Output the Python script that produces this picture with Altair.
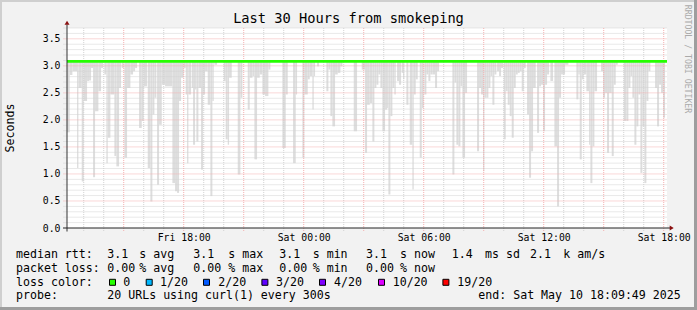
import altair as alt
import pandas as pd

# ---------------- data ----------------
# smoke bars: minutes after Fri 12:10, and lowest ping (s) of each bar
smoke_start_min = [0, 8, 16, 30, 34, 44, 50, 60, 66, 72, 78, 84, 94, 102, 112, 118, 122, 130, 142, 148, 156, 164, 172, 180, 190, 198, 204, 216, 224, 230, 242, 250, 256, 262, 270, 276, 284,
                   294, 316, 324, 330, 336, 342, 350, 356, 360, 364, 374, 378, 384, 388, 394, 402, 408, 414, 422, 430, 436, 442, 470, 476, 482, 486, 512, 520, 542, 548, 556, 562, 570, 578, 586,
                   594, 604, 646, 656, 678, 686, 706, 712, 722, 728, 736, 740, 750, 778, 784, 790, 796, 804, 812, 820, 860, 884,
                   894, 900, 908, 916, 922, 928, 934, 940, 946, 954, 960, 964, 970, 976, 982, 990, 996, 1004, 1008, 1018, 1028, 1036, 1040, 1046, 1058, 1064, 1072, 1078, 1084, 1090, 1096, 1104, 1110, 1156, 1162, 1168, 1174, 1180, 1186,
                   1194, 1230, 1236, 1242, 1248, 1252, 1258, 1264, 1270, 1276, 1282, 1290, 1296, 1302, 1310, 1316, 1322, 1328, 1334, 1340, 1346, 1352, 1358, 1364, 1370, 1380, 1386, 1392, 1398, 1410, 1416, 1422, 1428, 1434, 1440, 1450, 1462, 1470, 1476, 1482,
                   1494, 1528, 1534, 1538, 1544, 1550, 1558, 1566, 1570, 1576, 1582, 1602, 1608, 1614, 1620, 1626, 1634, 1640, 1646, 1670, 1678, 1684, 1690, 1696, 1702, 1708, 1714, 1720, 1726, 1732, 1738, 1744, 1764, 1770, 1776, 1782, 1788]
smoke_end_min = [8, 16, 30, 34, 44, 50, 60, 66, 72, 78, 84, 94, 102, 108, 118, 122, 130, 142, 148, 156, 162, 170, 180, 190, 198, 204, 210, 224, 230, 240, 250, 256, 262, 268, 276, 284, 294,
                 316, 324, 330, 336, 342, 350, 356, 360, 364, 372, 378, 384, 388, 394, 402, 408, 414, 422, 430, 436, 440, 450, 476, 482, 486, 494, 520, 526, 548, 556, 562, 570, 578, 586, 594,
                 604, 610, 656, 662, 686, 690, 712, 722, 728, 736, 740, 744, 756, 784, 790, 796, 804, 812, 820, 826, 870, 894,
                 900, 908, 916, 922, 928, 934, 940, 946, 954, 960, 964, 970, 976, 982, 986, 996, 1002, 1008, 1012, 1024, 1036, 1040, 1046, 1052, 1064, 1070, 1078, 1084, 1090, 1096, 1104, 1110, 1116, 1162, 1168, 1174, 1180, 1186, 1194,
                 1200, 1236, 1242, 1248, 1252, 1258, 1264, 1270, 1276, 1282, 1288, 1296, 1302, 1308, 1316, 1322, 1328, 1334, 1340, 1346, 1352, 1358, 1364, 1370, 1376, 1386, 1392, 1398, 1406, 1416, 1422, 1428, 1434, 1440, 1446, 1458, 1470, 1476, 1482, 1494,
                 1504, 1534, 1538, 1544, 1550, 1558, 1566, 1570, 1576, 1582, 1590, 1608, 1614, 1620, 1626, 1634, 1640, 1646, 1652, 1678, 1684, 1690, 1696, 1702, 1708, 1714, 1720, 1726, 1732, 1738, 1744, 1750, 1770, 1776, 1782, 1788, 1794]
smoke_low = [1.77, 2.83, 2.90, 1.11, 2.59, 0.86, 2.35, 2.72, 2.73, 2.96, 0.94, 2.16, 2.53, 2.96, 2.84, 1.20, 1.67, 2.47, 1.33, 1.14, 2.59, 2.96, 1.30, 2.59, 2.84, 2.90, 2.96, 1.85, 1.98, 2.62, 1.11, 0.49, 2.10, 2.41, 0.80, 1.91, 2.65,
             2.62, 0.83, 0.68, 0.65, 2.35, 2.78, 2.96, 2.47, 1.20, 2.47, 2.59, 1.54, 2.56, 1.60, 2.59, 1.08, 2.47, 2.90, 2.28, 0.59, 2.35, 3.02, 2.72, 1.64, 1.54, 2.78, 0.99, 2.41, 2.19, 2.78, 2.81, 1.27, 2.78, 2.84, 2.47,
             2.44, 2.93, 1.48, 2.47, 1.20, 2.47, 1.30, 2.47, 2.75, 2.81, 2.19, 2.81, 2.99, 2.53, 2.93, 2.07, 1.88, 2.84, 2.87, 2.99, 1.79, 2.93,
             1.39, 2.28, 2.31, 1.60, 2.59, 2.65, 2.84, 2.59, 1.79, 2.19, 2.22, 0.62, 2.07, 2.59, 2.47, 2.72, 2.65, 2.87, 2.75, 2.28, 1.54, 0.71, 2.47, 2.75, 1.30, 2.22, 2.47, 2.84, 2.72, 2.84, 2.84, 2.59, 2.90, 0.99, 2.69, 1.54, 1.51, 2.62, 1.30,
             2.50, 1.42, 2.59, 2.47, 1.05, 2.41, 2.41, 2.59, 2.81, 2.28, 2.84, 2.90, 2.81, 2.96, 1.64, 2.53, 2.28, 2.07, 1.67, 2.59, 2.84, 2.87, 2.90, 2.53, 2.96, 2.10, 0.93, 1.42, 2.59, 1.76, 2.62, 2.65, 1.79, 2.65, 2.84, 2.72, 1.51, 0.40, 2.41, 2.84,
             3.02, 2.38, 2.84, 1.27, 2.75, 2.84, 2.53, 1.54, 0.83, 1.51, 2.53, 2.90, 2.41, 2.50, 1.39, 2.50, 1.33, 2.65, 3.02, 1.98, 1.98, 2.59, 2.81, 2.41, 1.54, 1.88, 2.47, 1.02, 1.88, 0.83, 2.35, 2.90, 2.59, 1.88, 2.65, 2.50, 2.04]
SMOKE_TOP = 3.07

median_time = ["2025-05-09T12:09:49Z", "2025-05-10T18:09:49Z"]
median_rtt = [3.082, 3.082]

loss_labels = ["0", "1/20", "2/20", "3/20", "4/20", "10/20", "19/20"]
loss_colors = ["#26ff00", "#00b8ff", "#0059ff", "#5e00ff", "#7e00ff", "#dd00ff", "#ff0000"]

y_tick_values = [0.0, 0.5, 1.0, 1.5, 2.0, 2.5, 3.0, 3.5]
x_tick_hours = [(9, 18), (10, 0), (10, 6), (10, 12), (10, 18)]

title_text = "Last 30 Hours from smokeping"
y_title = "Seconds"
watermark = "RRDTOOL / TOBI OETIKER"
legend_rtt = ["median rtt:", "3.1", "s avg", "3.1", "s max", "3.1", "s min", "3.1", "s now", "1.4", "ms sd", "2.1", "k am/s"]
legend_loss = ["packet loss:", "0.00", "% avg", "0.00", "% max", "0.00", "% min", "0.00", "% now"]
legend_probe = ["probe:", "20 URLs using curl(1) every 300s", "end: Sat May 10 18:09:49 2025"]
loss_color_label = "loss color:"

# ---------------- layout ----------------
FONT = "DejaVu Sans Mono"
W, H = 600, 200
PAD = {"left": 67, "top": 28, "right": 30, "bottom": 82}
rtt_x = [-51, 40.3, 72.3, 126.3, 161.3, 212.3, 245.7, 299, 333, 384.7, 418, 463, 496.3]
loss_x = [-51, 40.3, 72.3, 126.3, 161.3, 212.3, 245.7, 299, 333]
probe_x = [-51, 40.3, 411.3]
sq_x = [42.0, 78.7, 136.0, 194.4, 252.0, 311.0, 375.4]
lab_x = [56.3, 93, 151.3, 209, 267, 325.7, 390.3]
LINE_Y = [226.6, 240.6, 254.6, 268.4]

t0 = pd.Timestamp("2025-05-09 12:10:00")
fmt = "%Y-%m-%dT%H:%M:%SZ"
smoke = pd.DataFrame({
    "start": (t0 + pd.to_timedelta(smoke_start_min, unit="min")).strftime(fmt),
    "end": (t0 + pd.to_timedelta(smoke_end_min, unit="min")).strftime(fmt),
    "low": smoke_low,
})
smoke["high"] = SMOKE_TOP
median = pd.DataFrame({"t": median_time, "v": median_rtt})

grid_hours = [pd.Timestamp("2025-05-09 13:00") + pd.Timedelta(hours=h) for h in range(30)]
vgrid = pd.DataFrame({"t": [g.strftime(fmt) for g in grid_hours],
                      "major": [g.hour % 3 == 0 for g in grid_hours]})
hvals = [round(k * 0.1, 1) for k in range(1, 38)]
hgrid = pd.DataFrame({"v": hvals, "major": [k % 5 == 0 for k in range(1, 38)]})

x_scale = alt.Scale(type="utc", domain=[
    alt.DateTime(year=2025, month=5, date=9, hours=12, minutes=9, seconds=49, utc=True),
    alt.DateTime(year=2025, month=5, date=10, hours=18, minutes=9, seconds=49, utc=True)])
y_scale = alt.Scale(domain=[0, 3.7], nice=False, zero=True)

x_axis = alt.Axis(values=[alt.DateTime(year=2025, month=5, date=d, hours=h, utc=True) for d, h in x_tick_hours],
                  format="%a %H:%M", labelFont=FONT, labelFontSize=9.8, labelColor="#000000",
                  ticks=False, tickSize=0, domain=False, grid=False, title=None, labelPadding=9,
                  labelBaseline="middle", labelFlush=False, labelOverlap=False)
y_axis = alt.Axis(values=y_tick_values, format=".1f", labelFont=FONT, labelFontSize=9.8, labelColor="#000000",
                  ticks=False, tickSize=0, domain=False, grid=False, title=None, labelPadding=7,
                  labelFlush=False, labelOverlap=False)

one = alt.Data(values=[{}])

def txt(x, y, s, size=11.6, align="left", color="#000000", angle=0):
    kw = dict(text=s, font=FONT, fontSize=size, align=align, baseline="middle", color=color)
    if angle:
        kw["angle"] = angle
    return alt.Chart(one).mark_text(**kw).encode(x=alt.value(x), y=alt.value(y))

def box(x, x2, y, y2, color, stroke=None):
    kw = dict(color=color, opacity=1)
    if stroke:
        kw.update(stroke=stroke, strokeWidth=1)
    return alt.Chart(one).mark_rect(**kw).encode(
        x=alt.value(x), x2=alt.value(x2), y=alt.value(y), y2=alt.value(y2))

layers = []

# smoke
layers.append(alt.Chart(smoke).mark_rect(color="#dddddd", opacity=1).encode(
    x=alt.X("start:T", scale=x_scale, axis=x_axis), x2="end:T",
    y=alt.Y("low:Q", scale=y_scale, axis=y_axis), y2="high:Q"))

# grid
for maj, col in [(False, "#d2d2d2"), (True, "#f4b0b0")]:
    layers.append(alt.Chart(hgrid[hgrid.major == maj]).mark_rule(color=col, strokeDash=[1, 1], strokeWidth=1).encode(
        y=alt.Y("v:Q", scale=y_scale, axis=y_axis), x=alt.value(-3.5), x2=alt.value(W)))
    layers.append(alt.Chart(vgrid[vgrid.major == maj]).mark_rule(color=col, strokeDash=[1, 1], strokeWidth=1).encode(
        x=alt.X("t:T", scale=x_scale, axis=x_axis), y=alt.value(0), y2=alt.value(H + 3.5)))

# median line
layers.append(alt.Chart(median).mark_line(color=loss_colors[0], strokeWidth=2.6).encode(
    x=alt.X("t:T", scale=x_scale, axis=x_axis), y=alt.Y("v:Q", scale=y_scale, axis=y_axis)))

# axes lines and arrows
layers.append(alt.Chart(one).mark_rule(color="#333333", strokeWidth=1).encode(
    x=alt.value(0), y=alt.value(-3.5), y2=alt.value(H + 3.5)))
layers.append(alt.Chart(one).mark_rule(color="#222222", strokeWidth=1).encode(
    y=alt.value(H), x=alt.value(-4), x2=alt.value(603)))
layers.append(alt.Chart(one).mark_point(shape="M-1,0.8L0,-0.8L1,0.8Z", filled=True, size=25, color="#8a1010", opacity=1).encode(
    x=alt.value(0), y=alt.value(-5.3)))
layers.append(alt.Chart(one).mark_point(shape="M-0.8,-1L0.8,0L-0.8,1Z", filled=True, size=25, color="#8a1010", opacity=1).encode(
    x=alt.value(604.7), y=alt.value(H)))

# texts
layers.append(txt(281.5, -8.7, title_text, size=13.7, align="center"))
layers.append(txt(-56.5, 100, y_title, size=11.6, align="center", angle=270))
layers.append(txt(620, 31, watermark, size=8.2, align="center", color="#aaaaaa", angle=90))
for x, s in zip(rtt_x, legend_rtt):
    layers.append(txt(x, LINE_Y[0], s))
for x, s in zip(loss_x, legend_loss):
    layers.append(txt(x, LINE_Y[1], s))
layers.append(txt(-51, LINE_Y[2], loss_color_label))
for sx, lx, lab, col in zip(sq_x, lab_x, loss_labels, loss_colors):
    layers.append(box(sx + 0.5, sx + 6.5, LINE_Y[2] - 3.3, LINE_Y[2] + 2.7, col, stroke="#000000"))
    layers.append(txt(lx, LINE_Y[2], lab))
for x, s in zip(probe_x, legend_probe):
    layers.append(txt(x, LINE_Y[3], s))

# frame
layers.append(box(-67, 630, -28, -26, "#cfcfcf"))
layers.append(box(-67, -65, -28, 282, "#cfcfcf"))
layers.append(box(627, 630, -28, 282, "#9e9e9e"))
layers.append(box(-67, 630, 279, 282, "#9e9e9e"))

chart = alt.layer(*layers).properties(
    width=W, height=H, padding=PAD, autosize=alt.AutoSizeParams(type="none"),
    background="#f2f2f2",
).configure_view(stroke=None, fill="#ffffff")

chart.save("out.html", embed_options={"renderer": "svg", "actions": False})
